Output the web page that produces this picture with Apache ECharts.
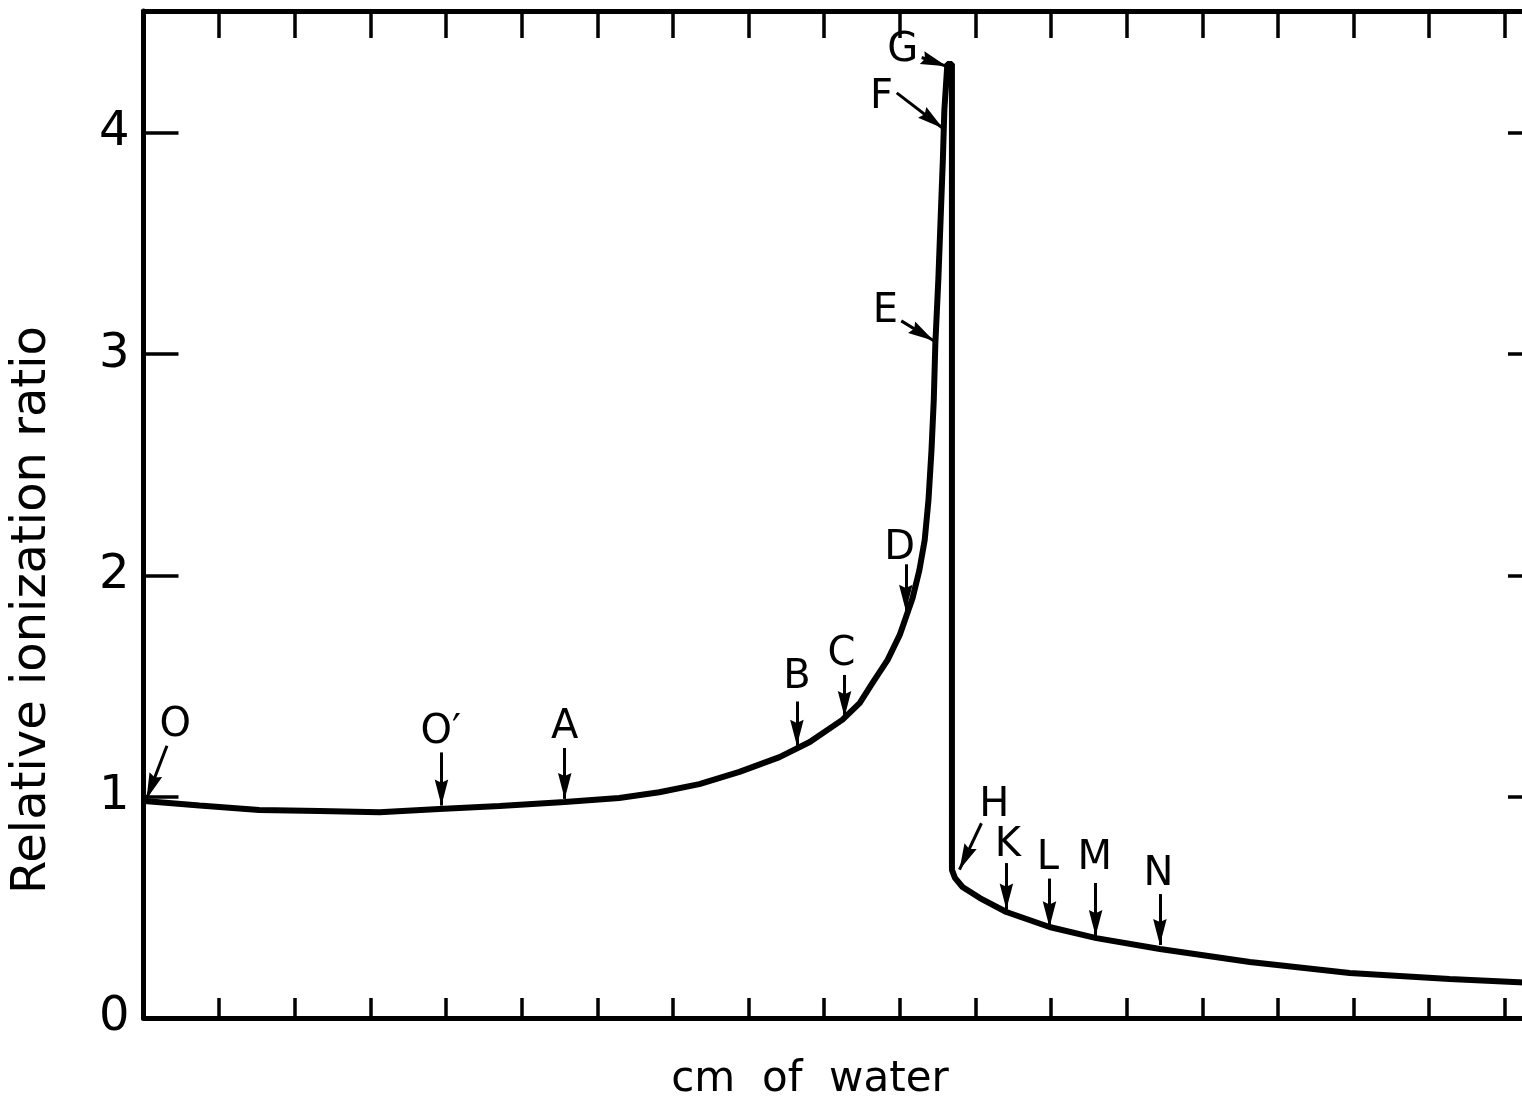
<!DOCTYPE html>
<html>
<head>
<meta charset="utf-8">
<title>Relative ionization ratio</title>
<script src="https://cdn.jsdelivr.net/npm/echarts@6/dist/echarts.min.js"></script>
<style>
  html, body { margin: 0; padding: 0; background: #fff; overflow: hidden; }
  #chart { width: 1560px; height: 1100px; }
</style>
</head>
<body>
<div id="chart"></div>
<script>
// depth along x (one unit per tick mark), ratio along y
var depth = [-0.19, 0.54, 1.33, 2.13, 2.92, 3.71, 4.51, 5.37, 6.09, 6.62, 7.15, 7.68, 8.21, 8.61, 9.04, 9.27, 9.44, 9.64, 9.80, 9.97, 10.06, 10.13, 10.18, 10.22, 10.25, 10.27, 10.31, 10.34, 10.37, 10.39, 10.42, 10.43, 10.49, 10.49, 10.53, 10.63, 10.86, 11.21, 11.78, 12.40, 13.24, 14.43, 15.75, 17.07, 18.2];
var ratio = [0.98, 0.96, 0.94, 0.935, 0.93, 0.944, 0.958, 0.976, 0.994, 1.02, 1.057, 1.112, 1.179, 1.247, 1.347, 1.423, 1.514, 1.618, 1.731, 1.898, 2.024, 2.16, 2.341, 2.567, 2.793, 3.041, 3.335, 3.606, 3.877, 4.103, 4.261, 4.311, 4.311, 0.669, 0.633, 0.592, 0.542, 0.479, 0.411, 0.361, 0.312, 0.253, 0.203, 0.176, 0.158];

var yTicks = ["0", "1", "2", "3", "4"];

// point letters and their arrows (arrow runs from -> to, tip at "to")
var letters = ["O", "O\u2032", "A", "B", "C", "D", "E", "F", "G", "H", "K", "L", "M", "N"];
var letterX = [0.22, 3.73, 5.37, 8.44, 9.03, 9.80, 9.61, 9.56, 9.84, 11.05, 11.23, 11.76, 12.38, 13.22];
var letterY = [1.32, 1.29, 1.31, 1.54, 1.64, 2.12, 3.19, 4.16, 4.37, 0.96, 0.78, 0.72, 0.72, 0.65];
var arrowFrom = [[0.11, 1.23], [3.74, 1.20], [5.37, 1.22], [8.44, 1.43], [9.07, 1.55], [9.88, 2.05], [9.82, 3.15], [9.76, 4.18], [10.09, 4.34], [10.88, 0.88], [11.21, 0.70], [11.78, 0.63], [12.39, 0.61], [13.24, 0.56]];
var arrowTo = [[-0.16, 0.99], [3.74, 0.96], [5.37, 0.99], [8.44, 1.23], [9.07, 1.36], [9.88, 1.84], [10.25, 3.06], [10.37, 4.02], [10.42, 4.30], [10.59, 0.67], [11.21, 0.49], [11.78, 0.41], [12.39, 0.37], [13.24, 0.33]];

var font = "DejaVu Sans";
var ink = "#000";

var chart = echarts.init(document.getElementById("chart"));

var curve = depth.map(function (d, i) { return [d, ratio[i]]; });
var labels = letters.map(function (l, i) { return { name: l, value: [letterX[i], letterY[i]] }; });
var arrows = arrowFrom.map(function (f, i) { return [{ coord: f }, { coord: arrowTo[i] }]; });

var tickStyle = { color: ink, width: 3.5 };
var lineStyle = { color: ink, width: 5 };

// arrow head whose tip sits in the middle of its box, so the tip lands on the end point
var headPath = "path://M0,-50 L0,-50 M0,0 L13,50 L0,44 L-13,50 Z";

function xAxis(pos, len) {
  return {
    type: "value", position: pos, min: -0.2, max: 18.2, interval: 1,
    axisLine: { onZero: false, lineStyle: lineStyle },
    axisTick: { inside: true, length: len, lineStyle: tickStyle },
    axisLabel: { show: false },
    splitLine: { show: false }
  };
}

chart.setOption({
  animation: false,
  backgroundColor: "#fff",
  grid: { left: 143.5, right: 25, top: 11, bottom: 82 },
  xAxis: [xAxis("bottom", 20), xAxis("top", 27)],
  yAxis: [
    {
      type: "value", position: "left", min: 0, max: 4.55, interval: 1,
      axisLine: { show: true, onZero: false, lineStyle: lineStyle },
      axisTick: { show: true, inside: true, length: 35, lineStyle: tickStyle },
      axisLabel: {
        fontFamily: font, fontSize: 48, color: ink, margin: 14, showMaxLabel: false,
        formatter: function (v) { return yTicks.indexOf(String(v)) >= 0 ? String(v) : ""; }
      },
      splitLine: { show: false }
    },
    {
      type: "value", position: "right", min: 0, max: 4.55, interval: 1,
      axisLine: { show: true, onZero: false, lineStyle: lineStyle },
      axisTick: { show: true, inside: true, length: 27, lineStyle: tickStyle },
      axisLabel: { show: false },
      splitLine: { show: false }
    }
  ],
  graphic: [
    {
      type: "text", x: 33, y: 610, rotation: Math.PI / 2,
      style: { text: "Relative ionization ratio", fontFamily: font, fontSize: 48, fill: ink, align: "center", verticalAlign: "middle" }
    },
    {
      type: "text", x: 810, y: 1080,
      style: { text: "cm  of  water", fontFamily: font, fontSize: 42, fill: ink, align: "center", verticalAlign: "middle" }
    }
  ],
  series: [
    {
      type: "line",
      data: curve,
      showSymbol: false,
      lineStyle: { color: ink, width: 6 },
      markLine: {
        silent: true,
        symbol: ["none", headPath],
        symbolSize: 52,
        symbolKeepAspect: true,
        label: { show: false },
        lineStyle: { color: ink, width: 3, type: "solid" },
        data: arrows
      }
    },
    {
      type: "scatter",
      data: labels,
      symbolSize: 0,
      itemStyle: { color: ink, opacity: 1 },
      label: {
        show: true, position: [0, 0], align: "center", verticalAlign: "middle",
        formatter: "{b}", fontFamily: font, fontSize: 40, color: ink, opacity: 1
      }
    }
  ]
});
</script>
</body>
</html>
